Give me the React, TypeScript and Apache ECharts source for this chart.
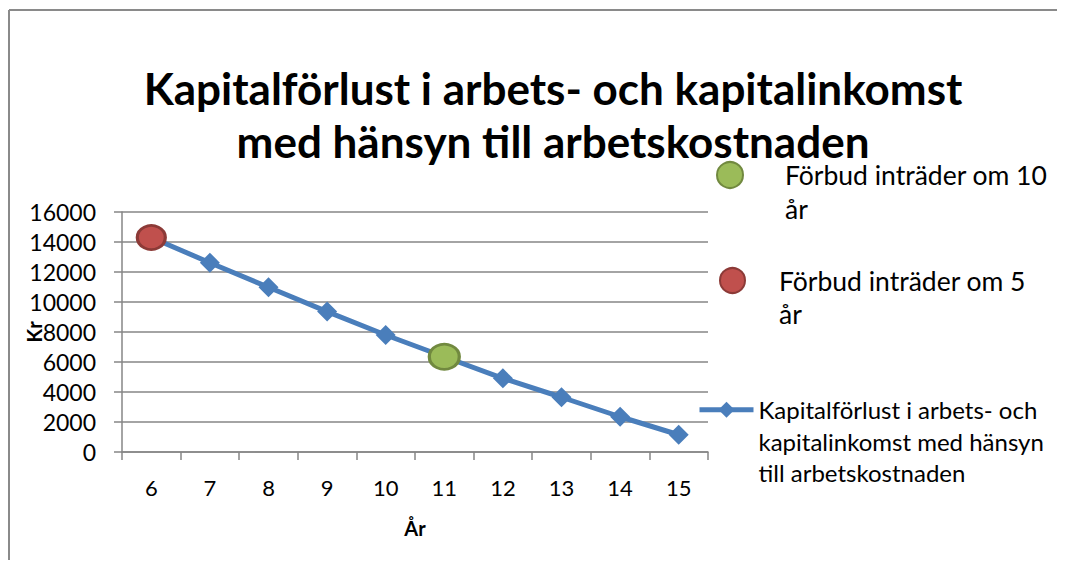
import React, { useEffect, useRef } from "react";
import * as echarts from "echarts";

const years = ["6", "7", "8", "9", "10", "11", "12", "13", "14", "15"];
const lossValues = [14300, 12620, 10980, 9360, 7800, 6350, 4910, 3650, 2350, 1150];
const ban10Values = [null, null, null, null, null, 6350, null, null, null, null];
const ban5Values = [14300, null, null, null, null, null, null, null, null, null];
const yTicks = [0, 2000, 4000, 6000, 8000, 10000, 12000, 14000, 16000];

const lossName = "Kapitalförlust i arbets- och kapitalinkomst med hänsyn till arbetskostnaden";
const ban10Name = "Förbud inträder om 10 år";
const ban5Name = "Förbud inträder om 5 år";

const FONT = "Lato";

export default function App() {
  const ref = useRef<HTMLDivElement>(null);
  useEffect(() => {
    const chart = echarts.init(ref.current!, undefined, { renderer: "svg" });
    chart.setOption({
      animation: false,
      backgroundColor: "#ffffff",
      textStyle: { fontFamily: FONT, color: "#000" },
      graphic: [
        {
          type: "line",
          shape: { x1: 1, y1: 2, x2: 1057, y2: 2 },
          style: { stroke: "#8a8a8a", lineWidth: 2 },
          silent: true,
        },
        {
          type: "line",
          shape: { x1: 1, y1: 2, x2: 1, y2: 552 },
          style: { stroke: "#8a8a8a", lineWidth: 2 },
          silent: true,
        },
      ],
      title: {
        text: "Kapitalförlust i arbets- och kapitalinkomst\nmed hänsyn till arbetskostnaden",
        left: 540,
        top: 48,
        textAlign: "center",
        textStyle: { fontFamily: FONT, fontSize: 44, fontWeight: "bold", color: "#000", lineHeight: 53 },
      },
      grid: { left: 114, top: 204, right: 357, bottom: 108, containLabel: false, outerBoundsMode: "none" },
      legend: [
        {
          data: [ban10Name],
          left: 708,
          top: 116,
          orient: "vertical",
          padding: 0,
          itemWidth: 32,
          itemHeight: 26,
          symbolKeepAspect: false,
          formatter: () => "\nFörbud inträder om 10\når",
          textStyle: { fontFamily: FONT, fontSize: 26.5, color: "#000", lineHeight: 34, padding: [0, 0, 0, 34] },
        },
        {
          data: [ban5Name],
          left: 711,
          top: 223,
          orient: "vertical",
          padding: 0,
          itemWidth: 29,
          itemHeight: 25,
          symbolKeepAspect: false,
          formatter: () => "\nFörbud inträder om 5\når",
          textStyle: { fontFamily: FONT, fontSize: 26.5, color: "#000", lineHeight: 33, padding: [0, 0, 0, 27] },
        },
        {
          data: [lossName],
          left: 689,
          top: 323,
          orient: "vertical",
          padding: 0,
          itemWidth: 54,
          itemHeight: 20,
          lineStyle: { width: 5 },
          formatter: () => "\n\nKapitalförlust i arbets- och\nkapitalinkomst med hänsyn\ntill arbetskostnaden",
          textStyle: { fontFamily: FONT, fontSize: 24, color: "#000", lineHeight: 31.5 },
        },
      ],
      xAxis: {
        type: "category",
        data: years,
        boundaryGap: true,
        name: "År",
        nameLocation: "middle",
        nameGap: 66,
        nameMoveOverlap: false,
        nameTextStyle: { fontFamily: FONT, fontSize: 20, fontWeight: "bold", color: "#000" },
        axisLine: { lineStyle: { color: "#868686", width: 1.5 } },
        axisTick: { show: true, length: 8, alignWithLabel: false, lineStyle: { color: "#868686", width: 1.5 } },
        axisLabel: { fontFamily: FONT, fontSize: 22, color: "#000", margin: 24 },
      },
      yAxis: {
        type: "value",
        min: yTicks[0],
        max: yTicks[yTicks.length - 1],
        interval: 2000,
        name: "Kr",
        nameLocation: "middle",
        nameGap: 78,
        nameMoveOverlap: false,
        nameTextStyle: { fontFamily: FONT, fontSize: 20, fontWeight: "bold", color: "#000" },
        axisLine: { show: true, lineStyle: { color: "#868686", width: 1.5 } },
        axisTick: { show: true, length: 8, lineStyle: { color: "#868686", width: 1.5 } },
        axisLabel: { fontFamily: FONT, fontSize: 23, color: "#000", margin: 26, formatter: (v: number) => String(v) },
        splitLine: { show: true, lineStyle: { color: "#868686", width: 1.5 } },
      },
      series: [
        {
          name: lossName,
          type: "line",
          data: lossValues,
          symbol: "diamond",
          symbolSize: 20,
          showSymbol: true,
          itemStyle: { color: "#4A7EBB" },
          lineStyle: { color: "#4A7EBB", width: 5 },
          z: 2,
        },
        {
          name: ban10Name,
          type: "scatter",
          data: ban10Values,
          symbol: "circle",
          symbolSize: [30, 25],
          itemStyle: { color: "#9BBB59", borderColor: "#71893F", borderWidth: 3, opacity: 1 },
          z: 3,
        },
        {
          name: ban5Name,
          type: "scatter",
          data: ban5Values,
          symbol: "circle",
          symbolSize: [28, 24],
          itemStyle: { color: "#C0504D", borderColor: "#8C3A37", borderWidth: 3, opacity: 1 },
          z: 3,
        },
      ],
    });
    return () => chart.dispose();
  }, []);
  return <div ref={ref} style={{ width: 1057, height: 552 }} />;
}
